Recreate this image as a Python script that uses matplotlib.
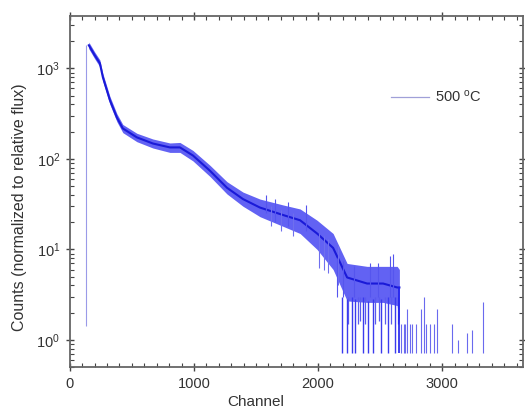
import numpy as np
import matplotlib
matplotlib.use("Agg")
import matplotlib.pyplot as plt
from matplotlib.ticker import MultipleLocator, LogLocator

plt.rcParams['font.family'] = ['Liberation Sans', 'DejaVu Sans']
plt.rcParams['mathtext.fontset'] = 'custom'
plt.rcParams['mathtext.rm'] = 'Liberation Sans'
plt.rcParams['mathtext.it'] = 'Liberation Sans:italic'

# main spectrum trend (channel, counts and noise envelope)
channel = [153, 200, 242, 266, 323, 379, 427, 540, 669, 806, 887, 992, 1129,
           1266, 1395, 1532, 1718, 1855, 1992, 2121, 2234, 2395, 2524, 2637, 2655]
counts = [1800, 1400, 1140, 800, 445, 287, 217, 173, 148, 134, 134, 109, 74,
          48, 36, 29, 24, 21, 15, 10.4, 4.9, 4.2, 4.2, 3.8, 3.8]
low = [1650, 1280, 1040, 720, 400, 258, 195, 155, 132, 118, 118, 95, 64,
       41, 30, 23, 18, 15, 10, 6.0, 2.7, 2.6, 2.6, 2.4, 1.5]
high = [1950, 1520, 1240, 880, 490, 316, 240, 192, 166, 150, 152, 124, 85,
        56, 43, 36, 31, 28, 21, 15, 7.0, 6.5, 6.5, 6.5, 6.0]

# rising edge of the spectrum
edge_channel = 129
edge_low, edge_high = 1.43, 1800

# single-channel excursions in the noisy region
dip_channel = [2190, 2230, 2270, 2300, 2360, 2400, 2440, 2510, 2560, 2620]
dip_top = [3.0, 2.8, 3.0, 2.8, 3.0, 2.7, 2.8, 2.8, 3.0, 3.0]
mid_channel = [2240, 2320, 2340, 2380, 2460, 2490, 2540, 2590, 2640]
mid_low = [1.5, 1.5, 1.6, 1.5, 1.5, 1.6, 1.5, 1.5, 1.5]
spike_channel = [1580, 1650, 1760, 1900, 2150, 2200, 2290, 2420, 2480, 2580, 2600]
spike_low = [25, 20, 18, 16, 3.0, 3.0, 3.0, 3.0, 3.0, 3.0, 3.0]
spike_top = [40, 36, 33, 31, 8.0, 7.5, 6.5, 7.0, 7.0, 8.5, 9.0]
light_channel = [1620, 1700, 1800, 2010, 2050, 2080, 2160]
light_low = [18, 16, 14, 6.3, 6.0, 5.5, 4.0]
light_high = [30, 27, 25, 15, 14, 13, 11]

# sparse counts in the tail above the cut-off
tail_channel = [2670, 2690, 2700, 2720, 2740, 2760, 2790, 2830, 2850, 2870,
                2900, 2930, 2960, 3080, 3130, 3200, 3240, 3330]
tail_top = [1.5, 1.5, 1.5, 2.2, 1.5, 1.5, 1.5, 2.2, 3.0, 1.5,
            1.5, 1.5, 2.2, 1.5, 1.0, 1.2, 1.3, 2.6]
floor = 0.72

blue = '#1f1fee'

fig = plt.figure(figsize=(5.25, 4.08), dpi=100)
ax = fig.add_axes([0.133, 0.10, 0.863, 0.861])

ax.vlines(edge_channel, edge_low, edge_high, color='#9a9ae8', lw=0.8)
ax.fill_between(channel, low, high, color=blue, alpha=0.7, lw=0)
ax.plot(channel, counts, color='#1a1ad8', lw=1.5)
ax.vlines(light_channel, light_low, light_high, color='#6f6fee', lw=0.8)
ax.vlines(mid_channel, mid_low, 3.0, color='#5a5aee', lw=0.9)
ax.vlines(dip_channel, floor, dip_top, color='#3a3aee', lw=1.0)
ax.vlines(spike_channel, spike_low, spike_top, color='#5555ee', lw=0.8)
ax.vlines(channel[-1], floor, counts[-1], color=blue, lw=1.2)
ax.vlines(tail_channel, floor, tail_top, color='#6a6aee', lw=0.8)

ax.set_yscale('log')
ax.set_xlim(0, 3650)
ax.set_ylim(0.5, 3800)

ax.xaxis.set_major_locator(MultipleLocator(1000))
ax.xaxis.set_minor_locator(MultipleLocator(100))
ax.yaxis.set_major_locator(LogLocator(base=10))
ax.yaxis.set_minor_locator(LogLocator(base=10, subs=np.arange(2, 10)))

ax.tick_params(which='both', top=True, right=True, colors='#444444',
               labelcolor='#333333', labelsize=10.5)
ax.tick_params(which='major', direction='inout', length=6, width=1)
ax.tick_params(which='minor', direction='in', length=3, width=0.8)
ax.tick_params(axis='x', pad=4)
ax.tick_params(axis='y', pad=4)
for s in ax.spines.values():
    s.set_color('#666666')
    s.set_linewidth(1.3)

ax.set_xlabel('Channel', fontsize=11, color='#333333')
ax.xaxis.set_label_coords(0.41, -0.08)
ax.set_ylabel('Counts (normalized to relative flux)', fontsize=11.5, color='#333333')
ax.yaxis.set_label_coords(-0.095, 0.455)

leg_line, = ax.plot([], [], color='#a0a0d8', lw=0.9, label=r'500 $^{\rm o}$C')
ax.legend(handles=[leg_line], loc='upper left', bbox_to_anchor=(0.68, 0.83),
          frameon=False, fontsize=10.5, handlelength=2.6, handletextpad=0.4,
          labelcolor='#333333')

fig.savefig('out.png', dpi=100)
